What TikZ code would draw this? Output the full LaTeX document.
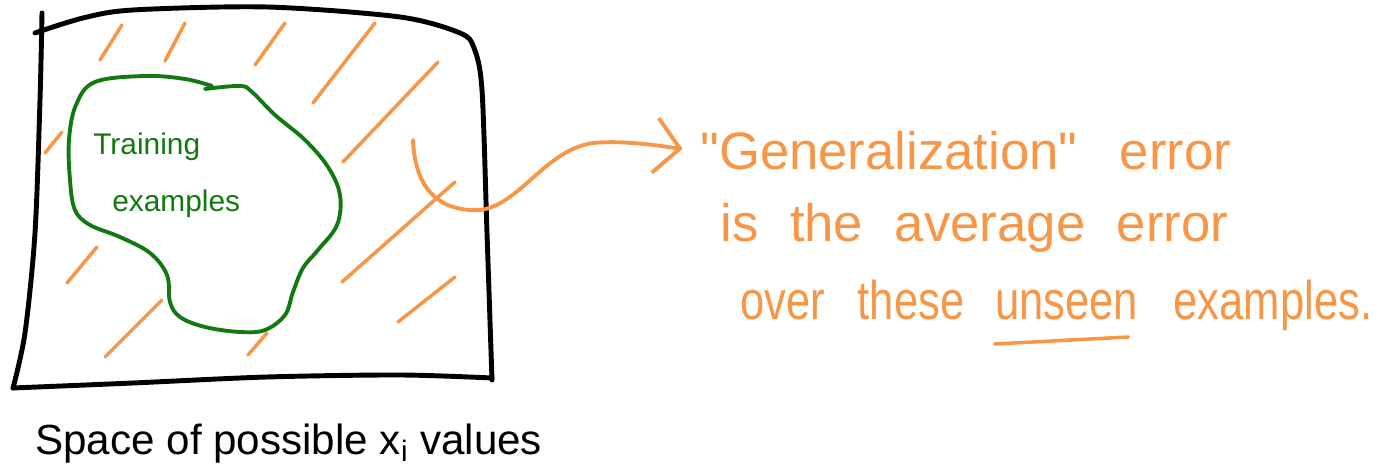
\documentclass[tikz,border=0pt]{standalone}
\usepackage{fontspec}
\setmainfont{Liberation Sans}
\newfontfamily\narrowhand[FakeStretch=0.8]{Liberation Sans}
\usepackage{tikz}
\usetikzlibrary{arrows.meta,positioning}
\definecolor{errorange}{RGB}{247,150,70}
\definecolor{traingreen}{RGB}{18,120,18}
\newcommand\widegaps{\spaceskip=0.8em\relax}
\newcommand\tightgaps{\spaceskip=0.6em\relax}

\begin{document}
\begin{tikzpicture}[x=0.02cm,y=-0.02cm,
  every node/.style={inner sep=0pt,anchor=base west},
  hand/.style={text=errorange,font=\fontsize{30}{36}\selectfont\widegaps},
  handtight/.style={text=errorange,font=\fontsize{30}{36}\selectfont\tightgaps},
  handnarrow/.style={text=errorange,font=\narrowhand\fontsize{31}{36}\selectfont\tightgaps},
  trainlabel/.style={text=traingreen,font=\fontsize{17}{20}\selectfont},
  caption/.style={font=\fontsize{24}{28}\selectfont},
  outline/.style={line width=2.8pt,line cap=round,line join=round},
  blob/.style={draw=traingreen,line width=2.2pt,line cap=round},
  hatch/.style={errorange,line width=2pt,line cap=round},
  ar/.style={-{Straight Barb[length=5mm,width=11mm]},errorange,line width=2.2pt,line cap=round,shorten >=0.35cm}]
\useasboundingbox (0,0) rectangle (1394,475);
% the space of x values
\draw[outline] plot[smooth] coordinates {(42,13) (40,100) (35,233) (25,333) (13,388)};
\draw[outline] plot[smooth] coordinates {(13,388) (133,383) (267,377) (400,375) (492,378)};
\draw[outline] plot[smooth] coordinates {(492,380) (487,233) (482,90) (474,48) (460,33) (400,17) (267,7) (133,10) (83,18) (35,33)};
\draw[hatch] (100,60) -- (122,25);
\draw[hatch] (165,61) -- (185,23);
\draw[hatch] (255,65) -- (285,23);
\draw[hatch] (313,103) -- (375,23);
\draw[hatch] (343,162) -- (438,62);
\draw[hatch] (45,153) -- (62,132);
\draw[hatch] (67,283) -- (97,247);
\draw[hatch] (105,357) -- (162,300);
\draw[hatch] (248,355) -- (267,333);
\draw[hatch] (342,282) -- (455,182);
\draw[hatch] (398,322) -- (455,277);
% training region
\draw[blob] plot[smooth,tension=0.6] coordinates {(205,89) (240,86) (252,92) (275,115) (305,140) (328,167) (340,195) (337,225) (318,250) (303,268) (293,292) (285,315) (265,330) (240,332) (205,327) (180,317) (170,302) (167,275) (150,253) (120,237) (90,225) (75,210) (70,180) (69,140) (76,105) (95,82) (145,76) (185,79) (212,86)};
\node[trainlabel] (train) at (93,155) {Training};
\node[trainlabel] (examples) at (112,212) {examples};
\node[caption] (space) at (35,455) {Space of possible x\textsubscript{i} values};
% generalization note
\node[hand] (gen) at (700,170) {\textquotedbl Generalization\textquotedbl{} error};
\node[handtight] (avg) at (720,242) {is the average error};
\node[handnarrow] (over) at (740,320) {over these};
\node[handnarrow,base right=0.6cm of over] (unseen) {unseen};
\node[handnarrow,base right=0.7cm of unseen] (rest) {examples.};
\draw[hatch] ([yshift=-0.48cm]unseen.base west) -- ([xshift=-0.2cm,yshift=-0.34cm]unseen.base east);
\coordinate (tail) at (413,140);
\draw[ar] (tail) .. controls (415,190) and (440,212) .. (480,210) .. controls (520,205) and (545,150) .. (593,143) .. controls (625,140) and (660,146) .. (gen.west);
\end{tikzpicture}
\end{document}
